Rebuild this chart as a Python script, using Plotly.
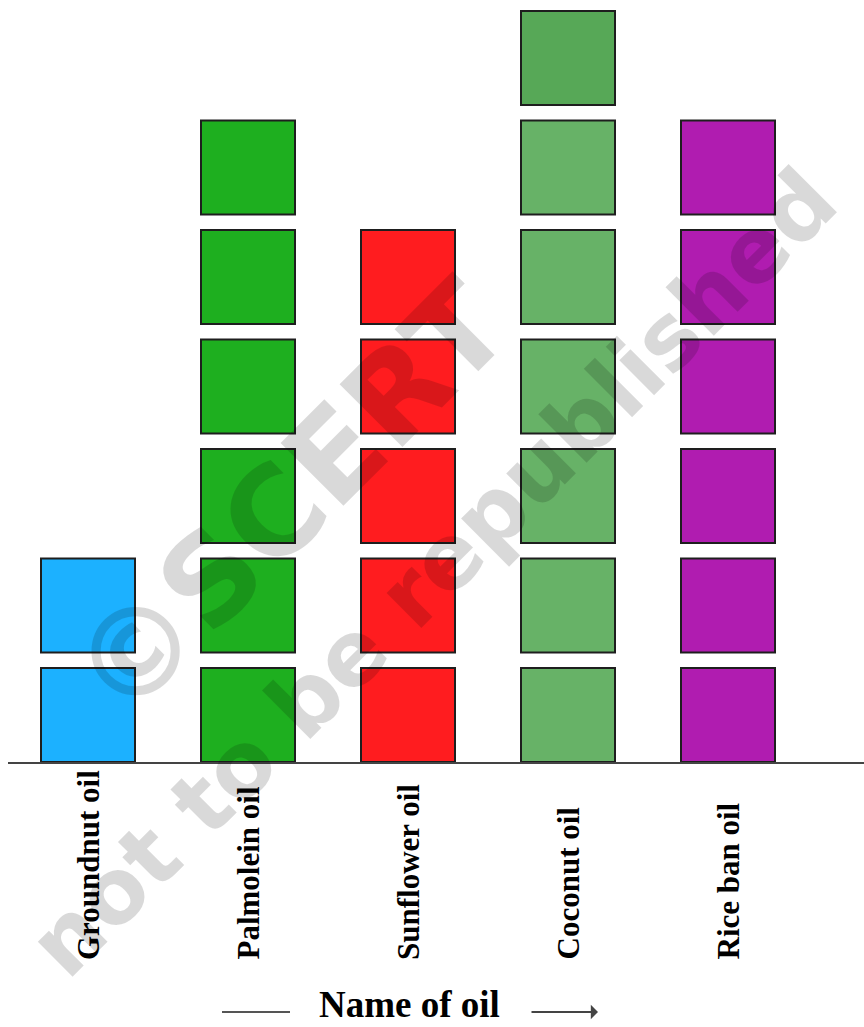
import plotly.graph_objects as go

# ---- data ----
categories = ["Groundnut oil", "Palmolein oil", "Sunflower oil", "Coconut oil", "Rice ban oil"]
counts = [2, 6, 5, 7, 6]
colors = ["#1CB1FF", "#1EAF1F", "#FF1C1F", "#67B267", "#B01CB0"]
top_colors = ["#1CB1FF", "#1EAF1F", "#FF1C1F", "#57A857", "#B01CB0"]
axis_title = "Name of oil"
watermark_1 = "©SCERT"
watermark_2 = "not to be republished"

BLOCK = 0.858   # fraction of one unit occupied by a block (rest is gap)
BAR_W = 0.5875

fig = go.Figure()
max_n = max(counts)
for level in range(max_n):
    xs, cs = [], []
    for c, n, col, tcol in zip(categories, counts, colors, top_colors):
        if n > level:
            xs.append(c)
            cs.append(tcol if level == n - 1 else col)
    fig.add_trace(go.Bar(
        x=xs, y=[BLOCK] * len(xs), base=[level] * len(xs),
        width=BAR_W,
        marker=dict(color=cs, line=dict(color="#1e1e1e", width=2)),
        showlegend=False, hoverinfo="skip",
    ))

W, H = 864, 1027
ML, MR, MT, MB = 8, 0, 0, 265
plot_h = H - MT - MB
unit_px = 109.5

def py(pix):  # pixel y -> paper y
    return (H - MB - pix) / plot_h

def px(pix):  # pixel x -> paper x
    return (pix - ML) / (W - ML - MR)

annotations = []
for c in categories:
    annotations.append(dict(
        x=c, xref="x", y=py(962), yref="paper",
        text=f"<b>{c}</b>", textangle=-90, showarrow=False,
        xanchor="center", yanchor="bottom",
        font=dict(family="Liberation Serif", size=31, color="#000"),
    ))
annotations.append(dict(
    x=px(409), y=py(1027), xref="paper", yref="paper",
    text=f"<b>{axis_title}</b>", showarrow=False,
    xanchor="center", yanchor="bottom",
    font=dict(family="Liberation Serif", size=37, color="#000"),
))
# arrow after title
annotations.append(dict(
    x=px(598), y=py(1012), xref="paper", yref="paper",
    ax=-68, ay=0, axref="pixel", ayref="pixel",
    text="", showarrow=True, arrowhead=1, arrowsize=1.2, arrowwidth=2,
    arrowcolor="#444",
))
# watermark
annotations.append(dict(
    x=px(290), y=py(500), xref="paper", yref="paper",
    text=f"<b>{watermark_1}</b>", textangle=-45, showarrow=False,
    xanchor="center", yanchor="middle",
    font=dict(family="DejaVu Sans", size=122, color="rgba(0,0,0,0.15)"),
))
annotations.append(dict(
    x=px(432), y=py(572), xref="paper", yref="paper",
    text=f"<b>{watermark_2}</b>", textangle=-45, showarrow=False,
    xanchor="center", yanchor="middle",
    font=dict(family="DejaVu Sans", size=90, color="rgba(0,0,0,0.15)"),
))

fig.update_layout(
    width=W, height=H,
    margin=dict(l=ML, r=MR, t=MT, b=MB, pad=0),
    barmode="overlay",
    plot_bgcolor="white", paper_bgcolor="white",
    xaxis=dict(type="category", range=[-0.5, 4.85], showticklabels=False,
               ticks="", showgrid=False, zeroline=False,
               showline=True, linecolor="#444", linewidth=2),
    yaxis=dict(range=[0, plot_h / unit_px], visible=False, showgrid=False,
               zeroline=False),
    annotations=annotations,
    shapes=[dict(type="line", xref="paper", yref="paper",
                 x0=px(222), x1=px(290), y0=py(1012), y1=py(1012),
                 line=dict(color="#555", width=2))],
)

fig.write_html("out.html", config={"displayModeBar": False},
               post_script="document.body.style.margin='0';document.body.style.overflow='hidden';")
